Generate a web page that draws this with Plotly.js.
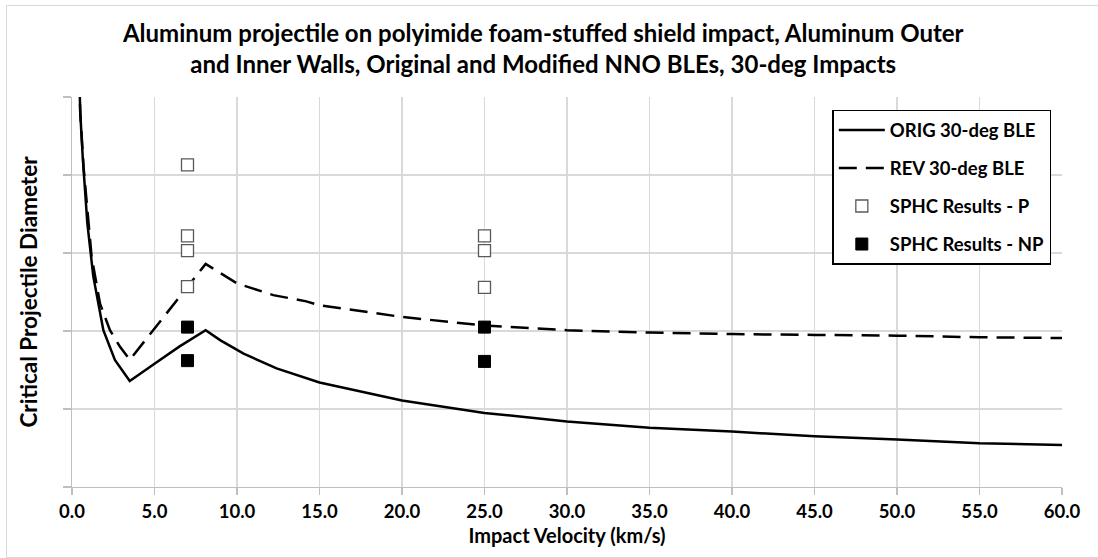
<!DOCTYPE html>
<html>
<head>
<meta charset="utf-8">
<script src="https://cdn.plot.ly/plotly-3.0.1.min.js"></script>
<style>
  html, body { margin: 0; padding: 0; background: #fff; }
  #wrap { position: relative; width: 1098px; height: 558px; overflow: hidden; }
  #chart { position: absolute; left: 0; top: 0; width: 1098px; height: 558px; }
  #frame { position: absolute; left: 6px; top: 5px; width: 1100px; height: 551px;
           border: 1px solid #d9d9d9; pointer-events: none; }
</style>
</head>
<body>
<div id="wrap">
  <div id="chart"></div>
  <div id="frame"></div>
</div>
<script>
// ---- data ----
const origX = [0.4, 0.5, 0.65, 0.93, 1.29, 1.9, 2.6, 3.5, 5.0, 6.5, 8.1, 9.0, 10.4, 12.4, 15, 20, 25, 30, 35, 40, 45, 50, 55, 60];
const origY = [5.6, 4.8, 4.23, 3.38, 2.70, 2.01, 1.63, 1.36, 1.58, 1.80, 2.01, 1.88, 1.71, 1.52, 1.34, 1.11, 0.95, 0.84, 0.76, 0.71, 0.65, 0.61, 0.56, 0.54];

const revX = [0.4, 0.5, 0.7, 1.19, 1.7, 2.3, 2.9, 3.5, 8.1, 10.0, 12.2, 14.2, 15, 20, 25, 30, 35, 40, 45, 50, 55, 60];
const revY = [5.6, 4.8, 4.1, 2.95, 2.35, 2.01, 1.80, 1.63, 2.86, 2.61, 2.46, 2.38, 2.33, 2.18, 2.07, 2.01, 1.98, 1.96, 1.95, 1.94, 1.92, 1.91];

const pX = [7, 7, 7, 7, 25, 25, 25];
const pY = [4.13, 3.22, 3.03, 2.57, 3.22, 3.03, 2.56];

const npX = [7, 7, 25, 25];
const npY = [2.05, 1.62, 2.05, 1.61];

const xTicks = [0, 5, 10, 15, 20, 25, 30, 35, 40, 45, 50, 55, 60];
const xTickText = xTicks.map(v => v.toFixed(1));

const names = ["ORIG 30-deg BLE", "REV 30-deg BLE", "SPHC Results - P", "SPHC Results - NP"];
const titleText = "Aluminum projectile on polyimide foam-stuffed shield impact, Aluminum Outer<br>and Inner Walls, Original and Modified NNO BLEs, 30-deg Impacts";

const FONT = "Lato, 'Open Sans', sans-serif";

const traces = [
  { x: origX, y: origY, name: names[0], mode: "lines", type: "scatter", legendgroup: "a",
    line: { color: "#000", width: 2.5 } },
  { x: revX, y: revY, name: names[1], mode: "lines", type: "scatter", legendgroup: "b",
    line: { color: "#000", width: 2.5, dash: "18px,9px" } },
  { x: pX, y: pY, name: names[2], mode: "markers", type: "scatter", legendgroup: "c",
    marker: { symbol: "square", size: 12, color: "#fff", line: { color: "#595959", width: 1.3 } } },
  { x: npX, y: npY, name: names[3], mode: "markers", type: "scatter", legendgroup: "d",
    marker: { symbol: "square", size: 12, color: "#000", line: { color: "#000", width: 1 } } }
];

const layout = {
  width: 1098, height: 558,
  margin: { l: 72, r: 36, t: 97, b: 71, autoexpand: false },
  paper_bgcolor: "#fff", plot_bgcolor: "#fff",
  font: { family: FONT, color: "#000" },
  title: { text: "<b>" + titleText + "</b>", font: { family: FONT, size: 24, color: "#000" },
           x: 0.476, xref: "paper", xanchor: "center", y: 0.925, yanchor: "middle" },
  showlegend: true,
  legend: {
    x: 0.768, y: 0.967, xanchor: "left", yanchor: "top",
    bgcolor: "#fff", bordercolor: "#000", borderwidth: 1.5,
    font: { family: FONT, size: 18.5, color: "#000", weight: "bold" },
    traceorder: "grouped", tracegroupgap: 11, itemwidth: 46
  },
  xaxis: {
    range: [0, 60], tickvals: xTicks, ticktext: xTickText,
    showgrid: true, gridcolor: "#d9d9d9", gridwidth: 1.3,
    showline: true, linecolor: "#bfbfbf", linewidth: 1.3,
    ticks: "outside", ticklen: 7, tickcolor: "#bfbfbf", tickwidth: 1.3,
    zeroline: false, tickfont: { family: FONT, size: 18.5, color: "#000", weight: "bold" },
    title: { text: "<b>Impact Velocity (km/s)</b>", font: { family: FONT, size: 20, color: "#000" }, standoff: 8 },
    automargin: false, fixedrange: true
  },
  yaxis: {
    range: [0, 5], dtick: 1, showticklabels: false,
    showgrid: true, gridcolor: "#d9d9d9", gridwidth: 1.3,
    showline: true, linecolor: "#bfbfbf", linewidth: 1.3,
    ticks: "outside", ticklen: 8, tickcolor: "#bfbfbf", tickwidth: 1.3,
    zeroline: false,
    title: { text: "<b>Critical Projectile Diameter</b>", font: { family: FONT, size: 22.5, color: "#000" }, standoff: 18 },
    automargin: false, fixedrange: true
  }
};

Plotly.newPlot("chart", traces, layout, { displayModeBar: false, staticPlot: true });
</script>
</body>
</html>
